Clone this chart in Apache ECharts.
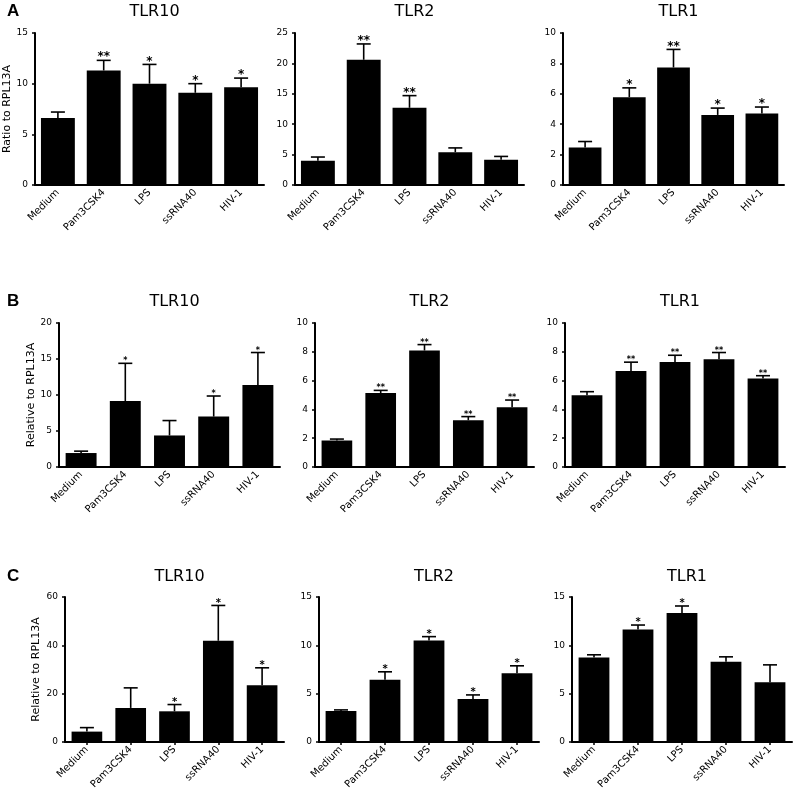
<!DOCTYPE html>
<html>
<head>
<meta charset="utf-8">
<script src="https://cdn.jsdelivr.net/npm/echarts@6/dist/echarts.min.js"></script>
<style>
  html, body { margin: 0; padding: 0; background: #fff; }
  #chart { width: 797px; height: 801px; }
</style>
</head>
<body>
<div id="chart"></div>
<script>
// categories shared by every panel
const categories = ['Medium', 'Pam3CSK4', 'LPS', 'ssRNA40', 'HIV-1']

// panel A
const aTlr10Mean = [6.6, 11.3, 10.0, 9.1, 9.65]
const aTlr10Err = [7.2, 12.3, 11.9, 10.0, 10.55]
const aTlr10Sig = ['', '**', '*', '*', '*']
const aTlr2Mean = [4.0, 20.6, 12.7, 5.4, 4.15]
const aTlr2Err = [4.6, 23.2, 14.7, 6.1, 4.7]
const aTlr2Sig = ['', '**', '**', '', '']
const aTlr1Mean = [2.47, 5.78, 7.73, 4.61, 4.7]
const aTlr1Err = [2.86, 6.39, 8.92, 5.06, 5.13]
const aTlr1Sig = ['', '*', '**', '*', '*']

// panel B
const bTlr10Mean = [1.94, 9.17, 4.38, 7.0, 11.38]
const bTlr10Err = [2.2, 14.4, 6.45, 9.86, 15.9]
const bTlr10Sig = ['', '*', '', '*', '*']
const bTlr2Mean = [1.84, 5.14, 8.09, 3.25, 4.15]
const bTlr2Err = [1.94, 5.32, 8.5, 3.5, 4.65]
const bTlr2Sig = ['', '**', '**', '**', '**']
const bTlr1Mean = [4.98, 6.66, 7.3, 7.49, 6.15]
const bTlr1Err = [5.23, 7.28, 7.76, 7.95, 6.34]
const bTlr1Sig = ['', '**', '**', '**', '**']

// panel C
const cTlr10Mean = [4.3, 14.1, 12.7, 41.9, 23.5]
const cTlr10Err = [5.95, 22.4, 15.5, 56.5, 30.7]
const cTlr10Sig = ['', '', '*', '*', '*']
const cTlr2Mean = [3.21, 6.43, 10.5, 4.46, 7.12]
const cTlr2Err = [3.32, 7.26, 10.9, 4.87, 7.88]
const cTlr2Sig = ['', '*', '*', '*', '*']
const cTlr1Mean = [8.75, 11.65, 13.34, 8.3, 6.19]
const cTlr1Err = [9.02, 12.1, 14.07, 8.81, 7.98]
const cTlr1Sig = ['', '*', '*', '', '']

// y axis ranges (max / tick step), same order as the panels
const yMax = [15, 25, 10, 20, 10, 10, 60, 15, 15]
const yStep = [5, 5, 2, 5, 2, 2, 20, 5, 5]
const titles = ['TLR10', 'TLR2', 'TLR1', 'TLR10', 'TLR2', 'TLR1', 'TLR10', 'TLR2', 'TLR1']
const yNames = ['Ratio to RPL13A', '', '', 'Relative to RPL13A', '', '', 'Relative to RPL13A', '', '']

const FONT = 'DejaVu Sans'

// panel list
const panels = [
  { mean: aTlr10Mean, err: aTlr10Err, sig: aTlr10Sig },
  { mean: aTlr2Mean, err: aTlr2Err, sig: aTlr2Sig },
  { mean: aTlr1Mean, err: aTlr1Err, sig: aTlr1Sig },
  { mean: bTlr10Mean, err: bTlr10Err, sig: bTlr10Sig },
  { mean: bTlr2Mean, err: bTlr2Err, sig: bTlr2Sig },
  { mean: bTlr1Mean, err: bTlr1Err, sig: bTlr1Sig },
  { mean: cTlr10Mean, err: cTlr10Err, sig: cTlr10Sig },
  { mean: cTlr2Mean, err: cTlr2Err, sig: cTlr2Sig },
  { mean: cTlr1Mean, err: cTlr1Err, sig: cTlr1Sig }
]

// layout of every grid
const grids = [
  { left: 35, top: 33, width: 229, height: 152 },
  { left: 295, top: 33, width: 229, height: 152 },
  { left: 563, top: 33, width: 221, height: 152 },
  { left: 59, top: 323, width: 221, height: 144 },
  { left: 315, top: 323, width: 219, height: 144 },
  { left: 565, top: 323, width: 220, height: 144 },
  { left: 65, top: 597, width: 219, height: 145 },
  { left: 319, top: 597, width: 220, height: 145 },
  { left: 572, top: 597, width: 220, height: 145 }
]
const rowOf = i => Math.floor(i / 3)
const titleTop = [-1, 289, 564]
const starSize = [12, 8, 10]
const nameGap = [21, 20, 23]
const nameSize = [11, 11, 11]

// error bar + significance stars
function errorBar(sig, size) {
  return function (params, api) {
    const x = api.value(0)
    const p0 = api.coord([x, api.value(1)])
    const p1 = api.coord([x, api.value(2)])
    const half = 7
    const st = { stroke: '#000', lineWidth: 1.6 }
    return {
      type: 'group',
      children: [
        { type: 'line', shape: { x1: p0[0], y1: p0[1], x2: p1[0], y2: p1[1] }, style: st },
        { type: 'line', shape: { x1: p1[0] - half, y1: p1[1], x2: p1[0] + half, y2: p1[1] }, style: st },
        {
          type: 'text',
          style: {
            text: sig[params.dataIndex], x: p1[0], y: p1[1] + size * 0.25,
            align: 'center', verticalAlign: 'bottom',
            fill: '#000', fontSize: size, fontFamily: FONT, fontWeight: 'bold'
          }
        }
      ]
    }
  }
}

const option = {
  backgroundColor: '#fff',
  animation: false,
  title: [],
  grid: [],
  xAxis: [],
  yAxis: [],
  series: []
}

;['A', 'B', 'C'].forEach((t, r) => {
  option.title.push({
    text: t, left: 2, top: titleTop[r] - 1,
    textStyle: { fontSize: 17, fontWeight: 'bold', fontFamily: 'Liberation Sans', color: '#000' }
  })
})

panels.forEach((p, i) => {
  const r = rowOf(i)
  const g = grids[i]
  option.grid.push(g)
  option.title.push({
    text: titles[i], left: g.left + g.width / 2, top: titleTop[r], textAlign: 'center',
    textStyle: { fontSize: 16, fontWeight: 'normal', fontFamily: FONT, color: '#000' }
  })
  option.xAxis.push({
    type: 'category', gridIndex: i, data: categories,
    axisLine: { lineStyle: { color: '#000', width: 2 } },
    axisTick: { show: r === 2, alignWithLabel: true, length: 3, lineStyle: { color: '#000', width: 1.5 } },
    axisLabel: { rotate: 45, interval: 0, margin: 6, fontSize: 10, fontFamily: FONT, color: '#000' }
  })
  option.yAxis.push({
    type: 'value', gridIndex: i, min: 0, max: yMax[i], interval: yStep[i],
    name: yNames[i], nameLocation: 'middle', nameGap: nameGap[r],
    nameTextStyle: { fontSize: nameSize[r], fontFamily: FONT, color: '#000' },
    axisLine: { show: true, lineStyle: { color: '#000', width: 2 } },
    axisTick: { show: true, length: 3, lineStyle: { color: '#000', width: 1.5 } },
    splitLine: { show: false },
    axisLabel: { margin: 7, fontSize: 9, fontFamily: FONT, color: '#000' }
  })
  option.series.push({
    type: 'bar', xAxisIndex: i, yAxisIndex: i, data: p.mean,
    barWidth: r === 0 ? '74%' : '70%',
    itemStyle: { color: '#000' }
  })
  option.series.push({
    type: 'custom', xAxisIndex: i, yAxisIndex: i,
    renderItem: errorBar(p.sig, starSize[r]),
    encode: { x: 0, y: [1, 2] },
    data: categories.map((c, k) => [k, p.mean[k], p.err[k]]),
    z: 3
  })
})

const chart = echarts.init(document.getElementById('chart'))
chart.setOption(option)
</script>
</body>
</html>
